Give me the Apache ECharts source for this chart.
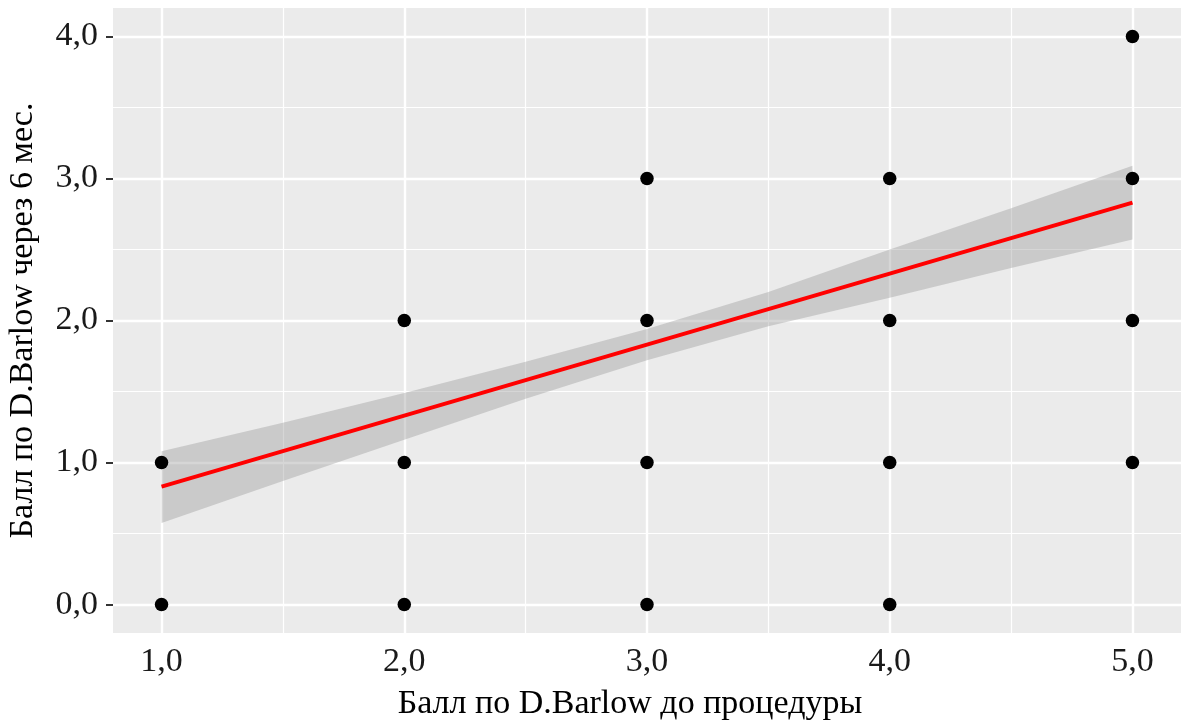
<!DOCTYPE html>
<html>
<head>
<meta charset="utf-8">
<script src="https://cdn.jsdelivr.net/npm/echarts@6/dist/echarts.min.js"></script>
<style>
  html, body { margin: 0; padding: 0; background: #ffffff; }
  #chart { width: 1181px; height: 724px; }
</style>
</head>
<body>
<div id="chart"></div>
<script>
// ---- data ----
const beforeScore = [1, 1, 2, 2, 2, 3, 3, 3, 3, 4, 4, 4, 4, 5, 5, 5, 5];
const afterScore  = [0, 1, 0, 1, 2, 0, 1, 2, 3, 0, 1, 2, 3, 1, 2, 3, 4];

const fitX = [1, 5];
const fitY = [0.83, 2.83];

const bandX     = [1, 1.5, 2, 2.5, 3, 3.5, 4, 4.5, 5];
const bandUpper = [1.08, 1.28, 1.49, 1.71, 1.94, 2.20, 2.50, 2.79, 3.09];
const bandLower = [0.575, 0.87, 1.16, 1.45, 1.72, 1.96, 2.16, 2.37, 2.57];

const xTicks = [1, 2, 3, 4, 5];
const yTicks = [0, 1, 2, 3, 4];
const xMinorGrid = [1.5, 2.5, 3.5, 4.5];
const yMinorGrid = [0.5, 1.5, 2.5, 3.5];

const xTitle = 'Балл по D.Barlow до процедуры';
const yTitle = 'Балл по D.Barlow через 6 мес.';

// ---- chart ----
const fmt = v => Number(v).toFixed(1).replace('.', ',');
const FONT = "'Liberation Serif', 'DejaVu Serif', serif";

const chart = echarts.init(document.getElementById('chart'), null, { renderer: 'canvas' });

const gridLineData = []
  .concat(xTicks.map(v => ({ xAxis: v, lineStyle: { width: 2.4 } })))
  .concat(xMinorGrid.map(v => ({ xAxis: v, lineStyle: { width: 1.2 } })))
  .concat(yTicks.map(v => ({ yAxis: v, lineStyle: { width: 2.4 } })))
  .concat(yMinorGrid.map(v => ({ yAxis: v, lineStyle: { width: 1.2 } })));

const pts = beforeScore.map((x, i) => [x, afterScore[i]]);
const bandRows = bandX.map((x, i) => [x, bandLower[i], bandUpper[i]]);

chart.setOption({
  animation: false,
  backgroundColor: '#ffffff',
  grid: {
    left: 113, right: 0, top: 8, bottom: 91,
    containLabel: false, outerBoundsMode: 'none',
    show: true, backgroundColor: '#EBEBEB', borderWidth: 0
  },
  xAxis: {
    type: 'value', min: 0.8, max: 5.2,
    axisLine: { show: false },
    axisTick: { show: true, length: 7, lineStyle: { color: '#333333', width: 2 }, customValues: xTicks },
    axisLabel: { show: true, customValues: xTicks, formatter: fmt, color: '#1a1a1a',
                 fontFamily: FONT, fontSize: 34, margin: 12 },
    splitLine: { show: false },
    name: xTitle, nameLocation: 'middle', nameGap: 54,
    nameTextStyle: { fontFamily: FONT, fontSize: 34, color: '#000000', padding: [0, 34, 0, 0] }
  },
  yAxis: {
    type: 'value', min: -0.2, max: 4.2,
    axisLine: { show: false },
    axisTick: { show: true, length: 7, lineStyle: { color: '#333333', width: 2 }, customValues: yTicks },
    axisLabel: { show: true, customValues: yTicks, formatter: fmt, color: '#1a1a1a',
                 fontFamily: FONT, fontSize: 34, margin: 15 },
    splitLine: { show: false },
    name: yTitle, nameLocation: 'middle', nameGap: 73, nameRotate: 90,
    nameTextStyle: { fontFamily: FONT, fontSize: 34, color: '#000000' }
  },
  series: [
    {
      type: 'scatter', data: [], z: 1, silent: true,
      markLine: {
        silent: true, symbol: 'none', animation: false, z: 1,
        label: { show: false },
        lineStyle: { color: '#ffffff', type: 'solid' },
        emphasis: { disabled: true },
        data: gridLineData
      }
    },
    {
      type: 'custom', z: 2, silent: true,
      data: bandRows,
      encode: { x: 0, y: [1, 2] },
      renderItem: function (params, api) {
        if (params.dataIndex !== 0) return null;
        const upperPts = bandX.map((x, i) => api.coord([x, bandUpper[i]]));
        const lowerPts = bandX.map((x, i) => api.coord([x, bandLower[i]])).reverse();
        return {
          type: 'polygon',
          shape: { points: upperPts.concat(lowerPts) },
          style: { fill: 'rgba(153,153,153,0.4)', stroke: null }
        };
      }
    },
    {
      type: 'line', z: 3, silent: true,
      data: fitX.map((x, i) => [x, fitY[i]]),
      symbol: 'none',
      lineStyle: { color: '#FF0000', width: 4 }
    },
    {
      type: 'scatter', z: 4, silent: true,
      data: pts,
      symbol: 'circle', symbolSize: 13.5,
      itemStyle: { color: '#000000', opacity: 1 }
    }
  ]
});
</script>
</body>
</html>
